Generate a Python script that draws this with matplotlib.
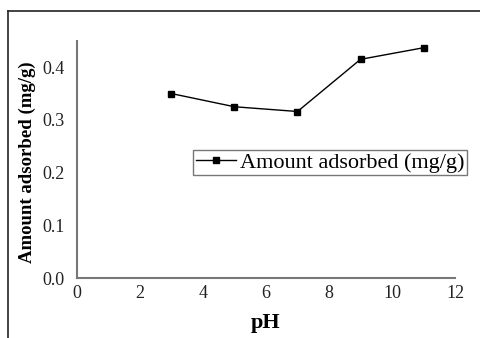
import matplotlib
matplotlib.use("Agg")
import matplotlib.pyplot as plt
from matplotlib.lines import Line2D

# datos
ph = [3, 5, 7, 9, 11]
amount = [0.350, 0.325, 0.316, 0.415, 0.437]
series_label = "Amount adsorbed (mg/g)"

plt.rcParams['font.family'] = ['Liberation Serif', 'DejaVu Serif']

fig = plt.figure(figsize=(4.81, 3.38), dpi=100)
ax = fig.add_axes([0.160, 0.1775, 0.786, 0.7015])

ax.plot(ph, amount, color='black', linewidth=1.0, marker='s', markersize=5,
        label=series_label)

ax.set_xlim(0, 12)
ax.set_ylim(0, 0.45)
ax.set_xticks(range(0, 13, 2))
ax.set_yticks([0.0, 0.1, 0.2, 0.3, 0.4])
ax.set_yticklabels([f"{v:.1f}" for v in [0.0, 0.1, 0.2, 0.3, 0.4]])
ax.tick_params(axis='y', length=0, labelsize=13, colors='#222222', pad=9)
ax.tick_params(axis='x', length=0, labelsize=13, colors='#222222', pad=5)

for side in ['top', 'right']:
    ax.spines[side].set_visible(False)
for side in ['left', 'bottom']:
    ax.spines[side].set_color('#777777')
    ax.spines[side].set_linewidth(1.5)

ax.set_xlabel("pH", fontsize=16, fontweight='bold')
ax.xaxis.set_label_coords(0.5, -0.148)
ax.set_ylabel(series_label, fontsize=13.5, fontweight='bold')
ax.yaxis.set_label_coords(-0.108, 0.49)

leg = ax.legend(loc='upper left', bbox_to_anchor=(0.308, 0.54), fontsize=16,
                frameon=True, fancybox=False, handlelength=1.8, handletextpad=0.2,
                borderpad=0.1, borderaxespad=0)
leg.get_frame().set_edgecolor('#555555')
leg.get_frame().set_linewidth(1.0)

# marco de la imagen original (arriba e izquierda)
fig.add_artist(Line2D([0.0166, 1.0], [0.967, 0.967], color='#222222', linewidth=1.2,
                      transform=fig.transFigure))
fig.add_artist(Line2D([0.0166, 0.0166], [0.0, 0.967], color='#222222', linewidth=1.2,
                      transform=fig.transFigure))

fig.savefig("out.png", dpi=100)
